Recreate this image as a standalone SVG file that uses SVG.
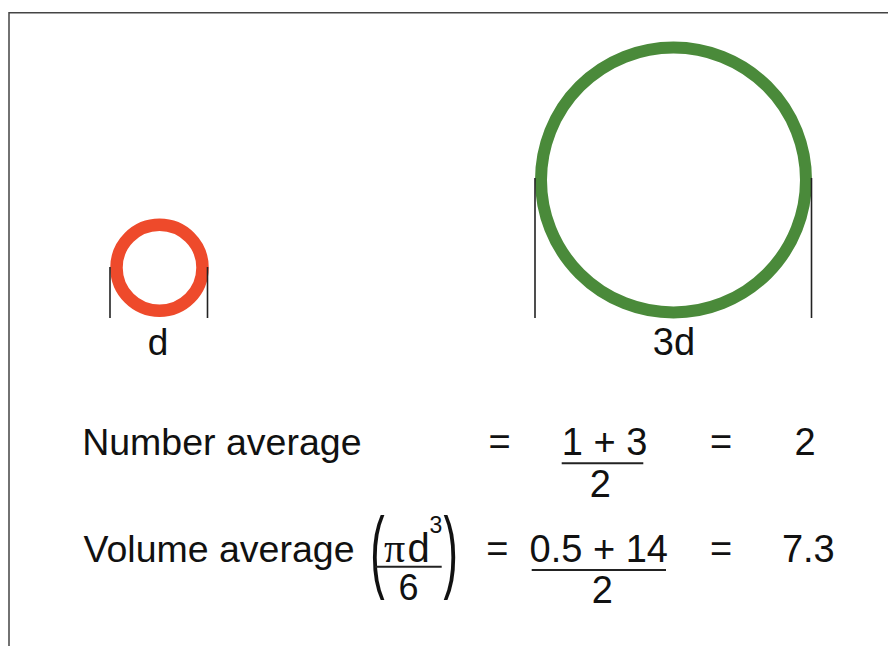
<svg xmlns="http://www.w3.org/2000/svg" width="888" height="646" viewBox="0 0 888 646">
<style>
.t{font-family:"Liberation Sans",Arial,sans-serif;font-size:38px;fill:#111}
.m{text-anchor:middle}
.dim{stroke:#222;stroke-width:1.6;fill:none}
.bar{stroke:#222;stroke-width:2;fill:none}
</style>
<rect width="888" height="646" fill="#fff"/>
<g id="frame" stroke="#444" stroke-width="1.5" fill="none">
<path d="M9 646 V12.8 H888"/>
</g>
<g id="small-particle">
<circle cx="159.5" cy="267.7" r="43" fill="none" stroke="#EE4A2B" stroke-width="12.5"/>
<line class="dim" x1="110" y1="267" x2="110" y2="318"/>
<line class="dim" x1="207.5" y1="267" x2="207.5" y2="318"/>
<text class="t m" x="158" y="355" style="font-size:37px">d</text>
</g>
<g id="large-particle">
<circle cx="673.5" cy="180" r="132.5" fill="none" stroke="#4A8A3A" stroke-width="12"/>
<line class="dim" x1="535" y1="178" x2="535" y2="318"/>
<line class="dim" x1="811.5" y1="178" x2="811.5" y2="318"/>
<text class="t m" x="674" y="355">3d</text>
</g>
<g id="number-average">
<text class="t" x="82.2" y="455" style="font-size:37.5px">Number average</text>
<text class="t m" x="499.5" y="455">=</text>
<text class="t m" x="604.5" y="455">1 + 3</text>
<line class="bar" x1="561.7" y1="463.3" x2="643.3" y2="463.3"/>
<text class="t m" x="600.3" y="497">2</text>
<text class="t m" x="721" y="455">=</text>
<text class="t m" x="805" y="455">2</text>
</g>
<g id="volume-average">
<text class="t" x="83.5" y="562" style="font-size:37.5px">Volume average</text>
<text class="t" transform="translate(370.2,580.8) scale(0.72,1.507)" style="font-size:60px">(</text>
<text class="t m" x="394.5" y="562" style="font-family:'Liberation Serif',serif;font-size:42px">π</text>
<text class="t m" x="418.5" y="562" style="font-size:40px">d</text>
<text class="t m" x="436" y="533.3" style="font-size:23px">3</text>
<line class="bar" x1="375" y1="566.7" x2="441.7" y2="566.7"/>
<text class="t m" x="408.5" y="600" style="font-size:36px">6</text>
<text class="t" transform="translate(443.5,580.8) scale(0.72,1.507)" style="font-size:60px">)</text>
<text class="t m" x="497.3" y="562">=</text>
<text class="t m" x="598.8" y="562">0.5 + 14</text>
<line class="bar" x1="531.7" y1="570" x2="666" y2="570"/>
<text class="t m" x="602.3" y="603">2</text>
<text class="t m" x="721" y="562">=</text>
<text class="t m" x="808.3" y="562">7.3</text>
</g>
</svg>
